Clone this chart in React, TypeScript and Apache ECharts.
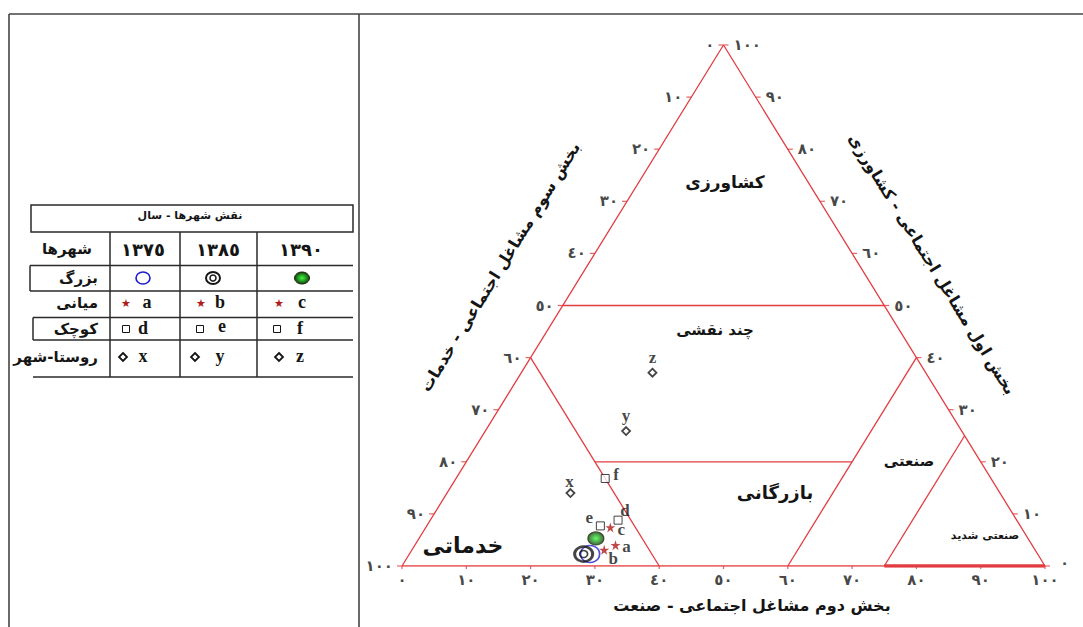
import React, { useEffect, useRef } from "react";
import * as echarts from "echarts";

// ---------- DATA ----------
// ternary values: industry (second sector), agriculture (first sector); services = 100 - both
const pointLabels = ["a", "b", "c", "d", "e", "f", "x", "y", "z"];
const pointGroups = ["میانی", "میانی", "میانی", "کوچک", "کوچک", "کوچک", "روستا-شهر", "روستا-شهر", "روستا-شهر"];
const pointAgri = [4.0, 3.1, 7.4, 8.8, 7.7, 16.8, 14.0, 25.9, 37.1];
const pointIndu = [31.2, 29.9, 28.7, 29.2, 27.0, 23.2, 19.2, 21.9, 20.4];

const bigYears = ["١٣٧٥", "١٣٨٥", "١٣٩٠"];
const bigAgri = [2.3, 2.3, 5.3];
const bigIndu = [28.1, 27.1, 27.5];

const tickValues = [0, 10, 20, 30, 40, 50, 60, 70, 80, 90, 100];

// boundaries as [industry, agriculture] pairs
const triangleEdge = [[0, 0], [100, 0], [0, 100], [0, 0]];
const agri50Line = [[0, 50], [50, 50]];
const serv60Line = [[0, 40], [40, 0]];
const agri20Line = [[20, 20], [60, 20]];
const indu60Line = [[60, 40], [60, 0]];
const indu75Line = [[75, 25], [75, 0]];
const heavyBase = [[75, 0], [100, 0]];

const legendTitle = "نقش شهرها - سال";
const legendHeader = "شهرها";
const years = ["١٣٧٥", "١٣٨٥", "١٣٩٠"];
const cityTypes = ["بزرگ", "میانی", "کوچک", "روستا-شهر"];
const legendLetters = [["a", "b", "c"], ["d", "e", "f"], ["x", "y", "z"]];

const regionNames = ["کشاورزی", "چند نقشی", "بازرگانی", "صنعتی", "صنعتی شدید", "خدماتی"];
const axisTitles = [
  "بخش دوم مشاغل اجتماعی - صنعت",
  "بخش سوم مشاغل اجتماعی - خدمات",
  "بخش اول مشاغل اجتماعی - کشاورزی",
];

// ---------- STYLE / LAYOUT ----------
const RED = "#e33c40";
const INK = "#151515";
const FONT = "'DejaVu Sans', sans-serif";
const LATIN = "'Liberation Serif', 'DejaVu Serif', serif";
const STAR = "path://M50,0L61.2,34.5L97.6,34.5L68.2,55.9L79.4,90.5L50,69.1L20.6,90.5L31.8,55.9L2.4,34.5L38.8,34.5Z";
const labelOffsets: Record<string, number[]> = {
  a: [11, 1], b: [9, 9], c: [11, 2], d: [7, -10], e: [-11, -8], f: [11, -4], x: [-1, -12], y: [0, -16], z: [0, -15],
};
const AR = "٠١٢٣٤٥٦٧٨٩";
const toAr = (n: number) => String(n).replace(/\d/g, (d) => AR[+d]);
const toXY = (ind: number, agr: number) => [ind + agr / 2, agr];

const greenFill = () =>
  new echarts.graphic.RadialGradient(0.5, 0.5, 0.5, [
    { offset: 0, color: "#4cf04c" },
    { offset: 0.45, color: "#24b024" },
    { offset: 1, color: "#1c3a12" },
  ]);

function buildOption() {
  const segLine = (seg: number[][], width: number) => ({
    type: "line",
    data: seg.map(([i, a]) => toXY(i, a)),
    symbol: "none",
    silent: true,
    z: 2,
    itemStyle: { color: RED },
    lineStyle: { color: RED, width },
  });

  const tickLabel = { show: true, formatter: (p: any) => p.name, fontFamily: FONT, fontWeight: "bold", fontSize: 15, color: INK };
  const tickSeries = (data: any[], size: number[], offset: number[], position: string, distance: number) => ({
    type: "scatter",
    symbol: "rect",
    symbolSize: size,
    symbolOffset: offset,
    silent: true,
    z: 3,
    itemStyle: { color: RED },
    data,
    label: { ...tickLabel, position, distance },
  });

  const leftTicks = tickValues.map((s) => ({ name: toAr(s), value: toXY(0, 100 - s) }));
  const rightTicks = tickValues.map((a) => ({
    name: toAr(a),
    value: toXY(100 - a, a),
    ...(a === 0 ? { label: { offset: [5, -3] } } : {}),
  }));
  const bottomTicks = tickValues.map((i) => ({ name: toAr(i), value: toXY(i, 0) }));

  const groupStyle: Record<string, any> = {
    "میانی": { symbol: STAR, symbolSize: 10, itemStyle: { color: "#b01a1a" } },
    "کوچک": { symbol: "rect", symbolSize: 8, itemStyle: { color: "#fff", borderColor: INK, borderWidth: 1 } },
    "روستا-شهر": { symbol: "diamond", symbolSize: 8, itemStyle: { color: "#fff", borderColor: INK, borderWidth: 1.8 } },
  };
  const groups = ["میانی", "کوچک", "روستا-شهر"];
  const pointSeries = groups.map((g) => ({
    type: "scatter",
    name: g,
    z: 6,
    ...groupStyle[g],
    label: { show: true, position: "inside", formatter: "{b}", fontFamily: LATIN, fontWeight: "bold", fontSize: 17, color: INK },
    data: pointLabels
      .map((lab, k) => ({ lab, k }))
      .filter(({ k }) => pointGroups[k] === g)
      .map(({ lab, k }) => ({
        name: lab,
        value: toXY(pointIndu[k], pointAgri[k]),
        label: { offset: labelOffsets[lab] },
      })),
  }));

  const big = (k: number) => [toXY(bigIndu[k], bigAgri[k])];
  const bigSeries = [
    { type: "scatter", name: bigYears[0], z: 5, symbol: "circle", symbolSize: [19, 17], data: big(0),
      itemStyle: { color: "rgba(0,0,0,0)", borderColor: "#2222cc", borderWidth: 1.6 } },
    { type: "scatter", name: bigYears[1], z: 5, symbol: "circle", symbolSize: [18, 15], data: big(1),
      itemStyle: { color: "rgba(0,0,0,0)", borderColor: INK, borderWidth: 2.8 } },
    { type: "scatter", name: bigYears[1] + "-in", z: 5, symbol: "circle", symbolSize: [8, 7], data: big(1),
      itemStyle: { color: "rgba(0,0,0,0)", borderColor: INK, borderWidth: 1.6 } },
    { type: "scatter", name: bigYears[2], z: 5, symbol: "circle", symbolSize: [16, 13], data: big(2),
      itemStyle: { color: greenFill(), borderColor: "#1a2a10", borderWidth: 1 } },
  ];

  // ---------- graphic: frame, legend table, region names, axis titles ----------
  const g: any[] = [];
  const line = (x1: number, y1: number, x2: number, y2: number, w = 1.5, c = "#2a2a2a") =>
    g.push({ type: "line", shape: { x1, y1, x2, y2 }, style: { stroke: c, lineWidth: w }, silent: true });
  const text = (x: number, y: number, t: string, size: number, opts: any = {}) =>
    g.push({
      type: "text", x, y, rotation: opts.rotation || 0, silent: true,
      style: { text: t, fontFamily: opts.family || FONT, fontWeight: "bold", fontSize: size, fill: opts.fill || INK,
        align: opts.align || "center", verticalAlign: "middle" },
    });

  // frame
  line(9, 14, 1083, 14, 1.6, "#444");
  line(9, 14, 9, 627, 1.6, "#444");
  line(359, 14, 359, 627, 1.6, "#444");

  // legend table
  g.push({ type: "rect", shape: { x: 31, y: 205, width: 322, height: 27 }, style: { fill: "none", stroke: "#2a2a2a", lineWidth: 1.5 }, silent: true });
  line(30, 265.5, 353, 265.5);
  line(30, 291, 353, 291);
  line(33, 317.5, 353, 317.5);
  line(33, 340, 353, 340);
  line(33, 377, 353, 377);
  line(30, 265.5, 30, 291);
  line(33, 317.5, 33, 340);
  [110, 180, 257].forEach((x) => line(x, 232, x, 377));
  text(190, 215, legendTitle, 11);
  text(67, 249, legendHeader, 15);
  const colX = [143, 218, 301];
  years.forEach((y, i) => text(colX[i], 249, y, 18));
  const rowY = [278, 303, 329, 357];
  cityTypes.forEach((c, i) => text(98, rowY[i], c, 15, { align: "right" }));
  // big-city symbols
  g.push({ type: "ellipse", shape: { cx: 143, cy: 278, rx: 7, ry: 6 }, style: { fill: "none", stroke: "#1a1ad0", lineWidth: 1.6 }, silent: true });
  g.push({ type: "ellipse", shape: { cx: 213, cy: 278, rx: 7, ry: 6 }, style: { fill: "none", stroke: INK, lineWidth: 2 }, silent: true });
  g.push({ type: "circle", shape: { cx: 213, cy: 278, r: 3 }, style: { fill: "none", stroke: INK, lineWidth: 1.5 }, silent: true });
  g.push({ type: "ellipse", shape: { cx: 302, cy: 278, rx: 7.5, ry: 6 }, style: { fill: greenFill(), stroke: "#1a2a10", lineWidth: 1 }, silent: true });
  const symX = [[126, 201, 279], [126, 200, 277], [123, 195, 279]];
  const letX = [[147, 220, 302], [143, 222, 300], [143, 220, 300]];
  legendLetters.forEach((row, r) => {
    const y = rowY[r + 1];
    row.forEach((lab, c) => {
      const sx = symX[r][c];
      if (r === 0) text(sx, y, "★", 11, { fill: "#b01a1a" });
      else if (r === 1) g.push({ type: "rect", shape: { x: sx - 3.5, y: y - 3.5, width: 7, height: 7 }, style: { fill: "#fff", stroke: INK, lineWidth: 1 }, silent: true });
      else g.push({ type: "polygon", shape: { points: [[sx, y - 4], [sx + 4, y], [sx, y + 4], [sx - 4, y]] }, style: { fill: "#fff", stroke: INK, lineWidth: 1.8 }, silent: true });
      text(letX[r][c], lab === "e" ? y - 3 : y - 1, lab, 18, { family: LATIN });
    });
  });

  // region names
  text(725, 182, regionNames[0], 17);
  text(715, 330, regionNames[1], 15);
  text(775, 492, regionNames[2], 18);
  text(909, 461, regionNames[3], 15);
  text(985, 535, regionNames[4], 11);
  text(463, 545, regionNames[5], 22);

  // axis titles
  const ang = Math.atan2(521, 321.5);
  text(752, 605, axisTitles[0], 16);
  text(500, 267, axisTitles[1], 16, { rotation: ang });
  text(932, 264, axisTitles[2], 16, { rotation: -ang });

  return {
    animation: false,
    backgroundColor: "#ffffff",
    grid: { left: 402, right: 38, top: 45, bottom: 61 },
    xAxis: { type: "value", min: 0, max: 100, show: false },
    yAxis: { type: "value", min: 0, max: 100, show: false },
    series: [
      segLine(triangleEdge, 1.3),
      segLine(agri50Line, 1.3),
      segLine(serv60Line, 1.3),
      segLine(agri20Line, 1.3),
      segLine(indu60Line, 1.3),
      segLine(indu75Line, 1.3),
      segLine(heavyBase, 3.5),
      tickSeries(leftTicks, [5, 1.2], [-2.5, 0], "left", 4),
      tickSeries(rightTicks, [5, 1.2], [2.5, 0], "right", 5),
      tickSeries(bottomTicks, [1.2, 3], [0, 1.5], "bottom", 3),
      ...bigSeries,
      ...pointSeries,
    ],
    graphic: g,
  };
}

export default function App() {
  const ref = useRef<HTMLDivElement>(null);
  useEffect(() => {
    if (!ref.current) return;
    const chart = echarts.init(ref.current, undefined, { renderer: "svg" });
    chart.setOption(buildOption() as any);
    return () => chart.dispose();
  }, []);
  return <div ref={ref} style={{ position: "fixed", left: 0, top: 0, width: 1083, height: 627, background: "#fff" }} />;
}
